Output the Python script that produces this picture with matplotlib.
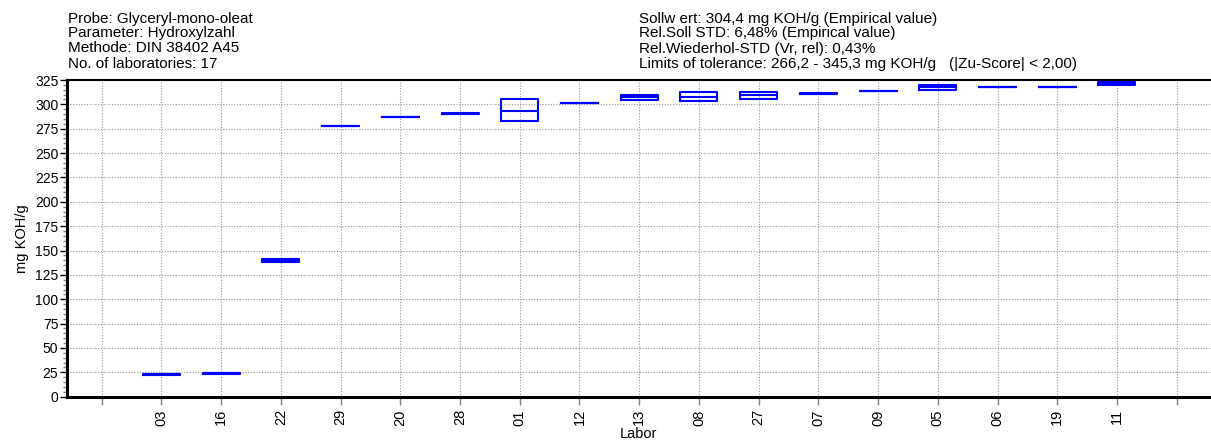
import matplotlib
matplotlib.use("Agg")
import matplotlib.pyplot as plt
from matplotlib.ticker import MultipleLocator

plt.rcParams['font.family'] = ['Liberation Sans', 'DejaVu Sans']

# lab codes, sorted by median
labs = ['03', '16', '22', '29', '20', '28', '01', '12', '13',
        '08', '27', '07', '09', '05', '06', '19', '11']
low = [22.5, 23.6, 138.0, 277.6, 286.6, 289.6, 282.5, 301.1, 304.6,
       303.4, 306.0, 310.6, 313.5, 315.2, 317.8, 317.8, 320.3]
med = [22.8, 23.9, 140.0, 278.0, 287.0, 290.6, 293.0, 301.5, 307.1,
       308.0, 309.1, 310.9, 313.8, 317.5, 318.0, 318.0, 321.5]
high = [23.1, 24.2, 141.5, 278.3, 287.4, 291.6, 305.3, 301.9, 309.1,
        312.5, 312.5, 311.2, 314.1, 319.7, 318.3, 318.3, 322.6]

header_left = ["Probe: Glyceryl-mono-oleat",
               "Parameter: Hydroxylzahl",
               "Methode: DIN 38402 A45",
               "No. of laboratories: 17"]
header_right = ["Sollw ert: 304,4 mg KOH/g (Empirical value)",
                "Rel.Soll STD: 6,48% (Empirical value)",
                "Rel.Wiederhol-STD (Vr, rel): 0,43%",
                "Limits of tolerance: 266,2 - 345,3 mg KOH/g   (|Zu-Score| < 2,00)"]

W, H = 1211, 443
fig = plt.figure(figsize=(W / 100, H / 100), dpi=100)
ax = fig.add_axes([66.7 / W, 1 - 396.7 / H, 1 - 66.7 / W, (396.7 - 80) / H])

blue = '#0000ff'
stats = []
for lab, lo, m, hi in zip(labs, low, med, high):
    stats.append({'label': lab, 'med': m, 'q1': lo, 'q3': hi,
                  'whislo': lo, 'whishi': hi, 'fliers': []})
positions = list(range(1, len(labs) + 1))
ax.bxp(stats, positions=positions, widths=0.62, showcaps=False,
       showfliers=False, manage_ticks=False,
       boxprops=dict(color=blue, linewidth=1.5),
       medianprops=dict(color=blue, linewidth=1.5),
       whiskerprops=dict(color=blue, linewidth=0))

ax.set_xlim(-0.586, 18.575)
ax.set_ylim(0, 325)
ax.set_xticks(range(len(labs) + 2))
ax.set_xticklabels([''] + labs + [''], rotation=90, fontsize=10.5)
ax.yaxis.set_major_locator(MultipleLocator(25))
ax.yaxis.set_minor_locator(MultipleLocator(5))
ax.tick_params(axis='y', which='major', length=5, width=1, labelsize=10, pad=1)
ax.tick_params(axis='y', which='minor', length=3, width=1, color='#808080')
ax.tick_params(axis='x', length=6, width=1, color='#808080', labelsize=10.5, pad=3)

ax.grid(True, which='major', linestyle=(0, (1, 1.5)), color='#999999', linewidth=0.8)
ax.set_axisbelow(True)

for side in ['left', 'bottom']:
    ax.spines[side].set_linewidth(2.2)
ax.spines['top'].set_linewidth(1.5)
ax.spines['right'].set_visible(False)

ax.set_ylabel('mg KOH/g', fontsize=10.5, labelpad=4)
ax.set_xlabel('Labor', fontsize=10.5, labelpad=1)

for i, line in enumerate(header_left):
    fig.text(68 / W, 1 - (22.5 + 15 * i) / H, line, fontsize=11,
             ha='left', va='baseline')
for i, line in enumerate(header_right):
    fig.text(639 / W, 1 - (22.5 + 15 * i) / H, line, fontsize=11,
             ha='left', va='baseline')

fig.savefig('out.png', dpi=100)
